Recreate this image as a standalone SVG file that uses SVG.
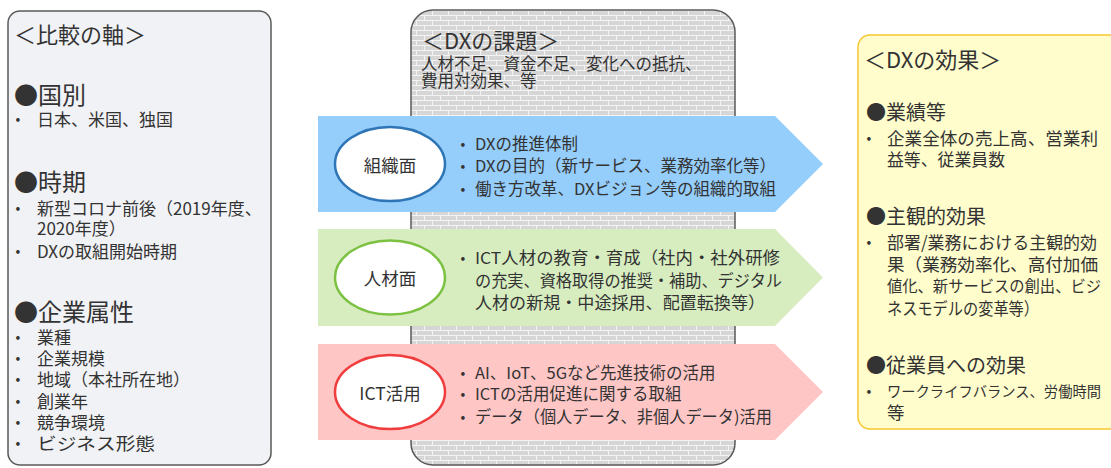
<svg xmlns="http://www.w3.org/2000/svg" width="1111" height="468" viewBox="0 0 1111 468">
<defs>
<pattern id="brick" patternUnits="userSpaceOnUse" width="16" height="10">
<rect width="16" height="10" fill="#d6d6d6"/>
<path d="M0,0.5H16M0,5.5H16M0.5,0V5M8.5,5V10" stroke="#f4f4f4" stroke-width="1" fill="none"/>
</pattern>
<style>
text{font-family:"Noto Sans CJK JP","Noto Sans",sans-serif;fill:#333;dominant-baseline:central}
.h{font-size:22px}
.hb{font-size:24px}
.hr{font-size:20px}
.t{font-size:17px}
.r{font-size:17.5px}
.m{font-size:16.5px}
.b{font-size:14px;text-anchor:middle}
.e{font-size:17.5px;text-anchor:middle}
.ell{fill:#fff;stroke-width:2.5}
</style>
</defs>

<g id="axes">
<rect x="8" y="11" width="263" height="454" rx="12" fill="#f1f2f5" stroke="#595959" stroke-width="1.5"/>
<text class="h" x="14" y="33">＜比較の軸＞</text>
<text class="hb" x="14" y="93">●国別</text>
<text class="b" x="18" y="118">•</text><text class="t" x="37" y="118">日本、米国、独国</text>
<text class="hb" x="14" y="180">●時期</text>
<text class="b" x="18" y="207">•</text><text class="t" x="37" y="207">新型コロナ前後（2019年度、</text>
<text class="t" x="37" y="227">2020年度）</text>
<text class="b" x="18" y="250">•</text><text class="t" x="37" y="250">DXの取組開始時期</text>
<text class="hb" x="14" y="310">●企業属性</text>
<text class="b" x="18" y="336">•</text><text class="t" x="37" y="336">業種</text>
<text class="b" x="18" y="357">•</text><text class="t" x="37" y="357">企業規模</text>
<text class="b" x="18" y="378">•</text><text class="t" x="37" y="378">地域（本社所在地）</text>
<text class="b" x="18" y="400">•</text><text class="t" x="37" y="400">創業年</text>
<text class="b" x="18" y="421">•</text><text class="t" x="37" y="421">競争環境</text>
<text class="b" x="18" y="442">•</text><text class="t" x="37" y="442" textLength="118" lengthAdjust="spacingAndGlyphs">ビジネス形態</text>
</g>

<g id="issues">
<rect x="411" y="10" width="324" height="455" rx="22" fill="url(#brick)" stroke="#595959" stroke-width="1.5"/>
<text class="h" x="422" y="39">＜DXの課題＞</text>
<text class="m" x="421" y="63">人材不足、資金不足、変化への抵抗、</text>
<text class="m" x="421" y="80">費用対効果、等</text>
</g>

<g id="connectors">
<path id="arrow-org" d="M318,116H775L823,164L775,212H318Z" fill="#95cdfb"/>
<path id="arrow-hr" d="M318,229H775L823,277.5L775,326H318Z" fill="#d7edc0"/>
<path id="arrow-ict" d="M318,344H775L823,392L775,440H318Z" fill="#ffc6c6"/>
</g>

<g id="org">
<ellipse class="ell" cx="390" cy="164" rx="55" ry="37" stroke="#2e75b6"/>
<text class="e" x="390" y="164">組織面</text>
<text class="b" x="463" y="143">•</text><text class="m" x="475" y="143">DXの推進体制</text>
<text class="b" x="463" y="165">•</text><text class="m" x="475" y="165">DXの目的（新サービス、業務効率化等）</text>
<text class="b" x="463" y="188">•</text><text class="m" x="475" y="188">働き方改革、DXビジョン等の組織的取組</text>
</g>

<g id="hr">
<ellipse class="ell" cx="390" cy="277.5" rx="55" ry="37" stroke="#7cc142"/>
<text class="e" x="390" y="277.5">人材面</text>
<text class="b" x="463" y="257">•</text><text class="m" x="475" y="257" textLength="305" lengthAdjust="spacingAndGlyphs">ICT人材の教育・育成（社内・社外研修</text>
<text class="m" x="475" y="280" textLength="307" lengthAdjust="spacingAndGlyphs">の充実、資格取得の推奨・補助、デジタル</text>
<text class="m" x="475" y="302" textLength="290" lengthAdjust="spacingAndGlyphs">人材の新規・中途採用、配置転換等）</text>
</g>

<g id="ict">
<ellipse class="ell" cx="390" cy="392" rx="55" ry="37" stroke="#f03c3c"/>
<text class="e" x="390" y="392">ICT活用</text>
<text class="b" x="463" y="372">•</text><text class="m" x="475" y="372">AI、IoT、5Gなど先進技術の活用</text>
<text class="b" x="463" y="393">•</text><text class="m" x="475" y="393">ICTの活用促進に関する取組</text>
<text class="b" x="463" y="416">•</text><text class="m" x="475" y="416" textLength="297" lengthAdjust="spacingAndGlyphs">データ（個人データ、非個人データ)活用</text>
</g>

<g id="effects">
<rect x="858" y="35" width="270" height="394" rx="12" fill="#fffdcc" stroke="#f7c631" stroke-width="1.5"/>
<text class="h" x="864" y="58">＜DXの効果＞</text>
<text class="hr" x="866" y="111">●業績等</text>
<text class="b" x="869" y="137">•</text><text class="r" x="887" y="137" textLength="211" lengthAdjust="spacingAndGlyphs">企業全体の売上高、営業利</text>
<text class="r" x="887" y="158" textLength="118" lengthAdjust="spacingAndGlyphs">益等、従業員数</text>
<text class="hr" x="866" y="215">●主観的効果</text>
<text class="b" x="869" y="241">•</text><text class="r" x="887" y="241" textLength="210" lengthAdjust="spacingAndGlyphs">部署/業務における主観的効</text>
<text class="r" x="887" y="263" textLength="211" lengthAdjust="spacingAndGlyphs">果（業務効率化、高付加価</text>
<text class="r" x="887" y="285" style="font-size:15.8px" textLength="214" lengthAdjust="spacingAndGlyphs">値化、新サービスの創出、ビジ</text>
<text class="r" x="887" y="307" textLength="152" lengthAdjust="spacingAndGlyphs">ネスモデルの変革等）</text>
<text class="hr" x="866" y="364">●従業員への効果</text>
<text class="b" x="869" y="390">•</text><text class="r" x="887" y="390" style="font-size:14.6px" textLength="214" lengthAdjust="spacingAndGlyphs">ワークライフバランス、労働時間</text>
<text class="r" x="887" y="411">等</text>
</g>
</svg>
